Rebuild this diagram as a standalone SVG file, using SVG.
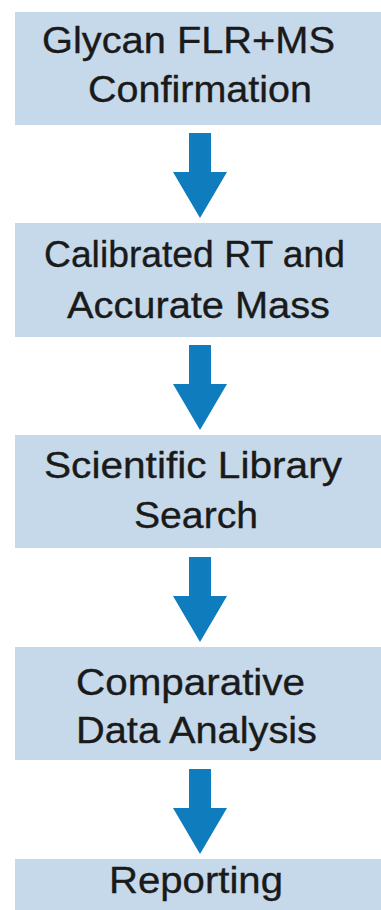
<svg xmlns="http://www.w3.org/2000/svg" width="381" height="910" viewBox="0 0 381 910">
<defs>
<style>
.box{fill:#c6d9ea;}
.lbl{font-family:"Liberation Sans",Arial,Helvetica,sans-serif;font-size:37px;fill:#1a1a1a;stroke:#1a1a1a;stroke-width:0.35px;}
.arr{fill:#0f7cbd;}
</style>
<path id="arrow" d="M-11,0 H11 V39 H27 L0,85 L-27,39 H-11 Z"/>
</defs>
<rect width="381" height="910" fill="#ffffff"/>
<g id="connectors">
<use href="#arrow" class="arr" transform="translate(200,133)"/>
<use href="#arrow" class="arr" transform="translate(200,345)"/>
<use href="#arrow" class="arr" transform="translate(200,557)"/>
<use href="#arrow" class="arr" transform="translate(200,769)"/>
</g>
<g id="node1">
<rect class="box" x="15" y="12" width="380" height="113"/>
<text class="lbl" x="42" y="53" textLength="293" lengthAdjust="spacingAndGlyphs">Glycan FLR+MS</text>
<text class="lbl" x="88" y="102" textLength="224" lengthAdjust="spacingAndGlyphs">Confirmation</text>
</g>
<g id="node2">
<rect class="box" x="15" y="223" width="380" height="114"/>
<text class="lbl" x="44" y="267" textLength="301" lengthAdjust="spacingAndGlyphs">Calibrated RT and</text>
<text class="lbl" x="67" y="318" textLength="263" lengthAdjust="spacingAndGlyphs">Accurate Mass</text>
</g>
<g id="node3">
<rect class="box" x="15" y="435" width="380" height="113"/>
<text class="lbl" x="44" y="478" textLength="298" lengthAdjust="spacingAndGlyphs">Scientific Library</text>
<text class="lbl" x="134" y="528" textLength="124" lengthAdjust="spacingAndGlyphs">Search</text>
</g>
<g id="node4">
<rect class="box" x="15" y="647" width="380" height="113"/>
<text class="lbl" x="76" y="695" textLength="229" lengthAdjust="spacingAndGlyphs">Comparative</text>
<text class="lbl" x="76" y="743" textLength="241" lengthAdjust="spacingAndGlyphs">Data Analysis</text>
</g>
<g id="node5">
<rect class="box" x="15" y="859" width="380" height="60"/>
<text class="lbl" x="109" y="893" textLength="174" lengthAdjust="spacingAndGlyphs">Reporting</text>
</g>
</svg>
